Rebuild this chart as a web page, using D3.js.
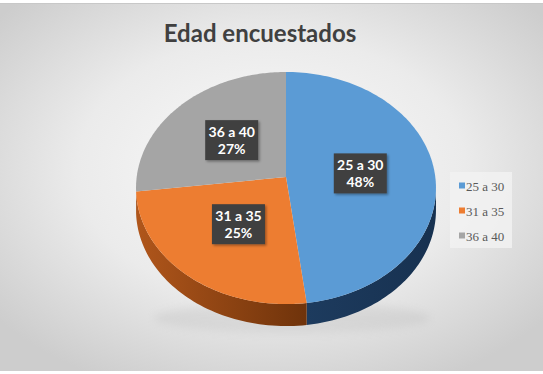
<!DOCTYPE html>
<html><head><meta charset="utf-8">
<script src="https://cdn.jsdelivr.net/npm/d3@7/dist/d3.min.js"></script>
<style>html,body{margin:0;padding:0;background:#fff;}svg{display:block;}</style>
</head><body><svg id="c" width="543" height="374"></svg>
<script>
const categories = ["25 a 30", "31 a 35", "36 a 40"];
const values = [48, 25, 27];
const percentLabels = ["48%", "25%", "27%"];
const title = "Edad encuestados";

const topColors = ["#5b9bd5", "#ed7d31", "#a5a5a5"];
const sideColors = [["#1d3b5e", "#173150"], ["#b0561b", "#6f330b"], ["#6e6e6e", "#555555"]];

const W = 543, H = 374;
const svg = d3.select("#c");
const defs = svg.append("defs");

// background
const bg = defs.append("radialGradient").attr("id", "bg").attr("cx", "50%").attr("cy", "45%").attr("r", "65%");
bg.append("stop").attr("offset", "0%").attr("stop-color", "#fbfbfb");
bg.append("stop").attr("offset", "55%").attr("stop-color", "#ebebeb");
bg.append("stop").attr("offset", "100%").attr("stop-color", "#cdcdcd");
svg.append("rect").attr("x", 0).attr("y", 3).attr("width", W).attr("height", 368).attr("fill", "url(#bg)");
svg.append("line").attr("x1", 0).attr("x2", W).attr("y1", 3.5).attr("y2", 3.5).attr("stroke", "#c8c8c8");

// title
svg.append("text").attr("x", 260).attr("y", 42).attr("text-anchor", "middle")
  .attr("font-family", "Lato, 'Open Sans', sans-serif").attr("font-weight", 700)
  .attr("font-size", 24).attr("fill", "#404040").text(title);

// perspective pie geometry
const cx = 286, cy = 177, Rx = 149.3, Cy = 115, k = 0.095, depth = 22;
const proj = (a, r) => {
  const u = Math.sin(a) * r, w = Math.cos(a) * r;
  const d = 1 + k * w;
  return [cx + Rx * u / d, cy - Cy * w / d];
};

const pie = d3.pie().sort(null).startAngle(0).endAngle(2 * Math.PI);
const arcs = pie(values);
const line = d3.line();

// soft shadow under pie
const sh = defs.append("filter").attr("id", "blur").attr("x", "-20%").attr("y", "-50%").attr("width", "140%").attr("height", "200%");
sh.append("feGaussianBlur").attr("stdDeviation", 4);
svg.append("ellipse").attr("cx", cx + 6).attr("cy", 318).attr("rx", 138).attr("ry", 15)
  .attr("fill", "#a0a0a0").attr("opacity", 0.18).attr("filter", "url(#blur)");

// side walls
const visA = Math.acos(-k), visB = 2 * Math.PI - Math.acos(-k);
arcs.forEach((d, i) => {
  const s = Math.max(d.startAngle, visA), e = Math.min(d.endAngle, visB);
  if (e <= s) return;
  const n = 60;
  const angs = d3.range(n + 1).map(j => s + (e - s) * j / n);
  const topPts = angs.map(a => proj(a, 1));
  const botPts = topPts.map(p => [p[0], p[1] + depth]).reverse();
  const gid = "side" + i;
  const xs = topPts.map(p => p[0]);
  const g = defs.append("linearGradient").attr("id", gid).attr("gradientUnits", "userSpaceOnUse")
    .attr("x1", d3.min(xs)).attr("x2", d3.max(xs)).attr("y1", 0).attr("y2", 0);
  g.append("stop").attr("offset", "0%").attr("stop-color", sideColors[i][0]);
  g.append("stop").attr("offset", "100%").attr("stop-color", sideColors[i][1]);
  svg.append("path").attr("d", line(topPts.concat(botPts)) + "Z").attr("fill", "url(#" + gid + ")");
});

// top faces
arcs.forEach((d, i) => {
  const n = 120;
  const pts = [proj(0, 0)].concat(d3.range(n + 1).map(j => proj(d.startAngle + (d.endAngle - d.startAngle) * j / n, 1)));
  svg.append("path").attr("d", line(pts) + "Z").attr("fill", topColors[i]);
});

// data labels
const ds = defs.append("filter").attr("id", "ds").attr("x", "-20%").attr("y", "-20%").attr("width", "150%").attr("height", "150%");
ds.append("feDropShadow").attr("dx", 1.5).attr("dy", 1.5).attr("stdDeviation", 1.2).attr("flood-color", "#000").attr("flood-opacity", 0.35);
arcs.forEach((d, i) => {
  const p = proj((d.startAngle + d.endAngle) / 2, 0.5);
  const g = svg.append("g").attr("transform", `translate(${p[0]},${p[1]})`);
  g.append("rect").attr("x", -26.5).attr("y", -20).attr("width", 53).attr("height", 40).attr("fill", "#404040").attr("filter", "url(#ds)");
  g.append("text").attr("text-anchor", "middle").attr("y", -3).attr("font-family", "Lato, sans-serif").attr("font-weight", 700)
    .attr("font-size", 14).attr("fill", "#fff").text(categories[i]);
  g.append("text").attr("text-anchor", "middle").attr("y", 14).attr("font-family", "Lato, sans-serif").attr("font-weight", 700)
    .attr("font-size", 14).attr("fill", "#fff").text(percentLabels[i]);
});

// legend
svg.append("rect").attr("x", 450).attr("y", 172).attr("width", 62).attr("height", 76).attr("fill", "#f2f2f2").attr("opacity", 0.8);
const lg = svg.append("g");
categories.forEach((c, i) => {
  const y = 186 + i * 25;
  lg.append("rect").attr("x", 459).attr("y", y - 3.5).attr("width", 6).attr("height", 6).attr("fill", topColors[i]);
  lg.append("text").attr("x", 466).attr("y", y + 4.5).attr("font-family", "'Liberation Serif', serif")
    .attr("font-size", 13).attr("fill", "#595959").text(c);
});
</script></body></html>
